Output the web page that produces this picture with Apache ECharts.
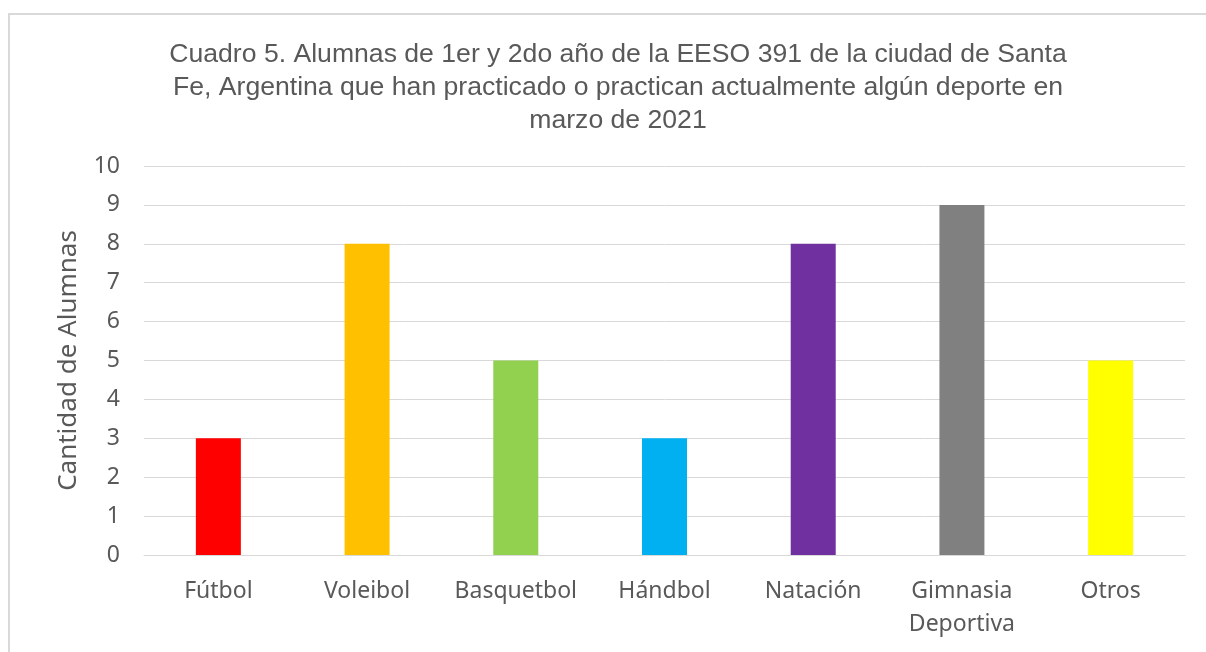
<!DOCTYPE html>
<html>
<head>
<meta charset="utf-8">
<script src="https://cdn.jsdelivr.net/npm/echarts@6/dist/echarts.min.js"></script>
<style>
    html, body { margin: 0; padding: 0; background: #fff; }
    #frame {
        position: absolute; left: 8px; top: 13px; right: 0; bottom: 0;
        border-top: 2px solid #d9d9d9; border-left: 2px solid #d9d9d9;
    }
    #chart { position: absolute; left: 0; top: 0; width: 1206px; height: 652px; }
</style>
</head>
<body>
<div id="frame"></div>
<div id="chart"></div>
<script>
// datos del gráfico
var categorias = ['Fútbol', 'Voleibol', 'Basquetbol', 'Hándbol', 'Natación', 'Gimnasia\nDeportiva', 'Otros'];
var valores = [3, 8, 5, 3, 8, 9, 5];
var colores = ['#ff0000', '#ffc000', '#92d050', '#00b0f0', '#7030a0', '#808080', '#ffff00'];
var titulo = 'Cuadro 5. Alumnas de 1er y 2do año de la EESO 391 de la ciudad de Santa\nFe, Argentina que han practicado o practican actualmente algún deporte en\nmarzo de 2021';
var ejeY = 'Cantidad de Alumnas';

var myChart = echarts.init(document.getElementById('chart'));
var option = {
    backgroundColor: 'transparent',
    animation: false,
    title: {
        text: titulo,
        left: 613,
        top: 33,
        textAlign: 'center',
        textStyle: {
            fontFamily: 'Liberation Sans',
            fontSize: 26.6,
            fontWeight: 'normal',
            color: '#595959',
            lineHeight: 33,
            align: 'center'
        }
    },
    grid: { left: 144, right: 21, top: 166, bottom: 97 },
    xAxis: {
        type: 'category',
        data: categorias,
        axisLine: { lineStyle: { color: '#d9d9d9', width: 1 } },
        axisTick: { show: false },
        axisLabel: {
            margin: 20,
            fontFamily: 'Noto Sans',
            fontSize: 23,
            lineHeight: 33,
            color: '#595959',
            interval: 0
        }
    },
    yAxis: {
        type: 'value',
        min: 0,
        max: 10,
        interval: 1,
        name: ejeY,
        nameLocation: 'middle',
        nameGap: 62,
        nameTextStyle: { fontFamily: 'Noto Sans', fontSize: 26, color: '#595959' },
        axisLine: { show: false },
        axisTick: { show: false },
        splitLine: { lineStyle: { color: '#d9d9d9', width: 1 } },
        axisLabel: {
            margin: 24,
            fontFamily: 'Noto Sans',
            fontSize: 23,
            color: '#595959'
        }
    },
    series: [{
        type: 'bar',
        barWidth: 45,
        data: valores.map(function (v, i) {
            return { value: v, itemStyle: { color: colores[i] } };
        })
    }]
};
myChart.setOption(option);
</script>
</body>
</html>
